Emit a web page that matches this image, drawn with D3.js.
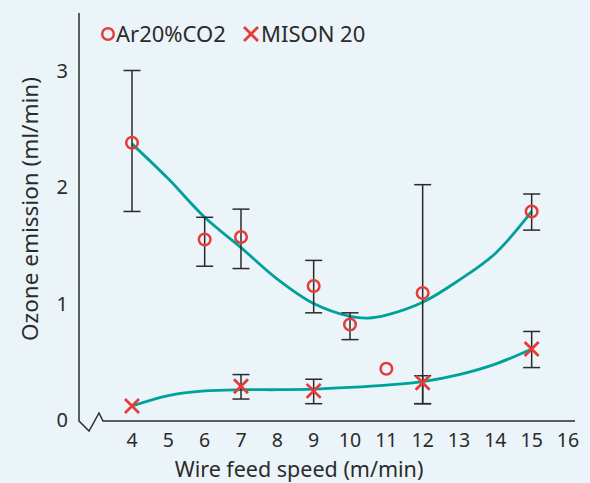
<!DOCTYPE html>
<html>
<head>
<meta charset="utf-8">
<script src="https://cdn.jsdelivr.net/npm/d3@7"></script>
<style>
  body { margin: 0; background: #ebf4f8; }
  svg { display: block; }
  text { font-family: "Noto Sans", sans-serif; fill: #2b2b2b; }
</style>
</head>
<body>
<svg id="chart" width="590" height="483"></svg>
<script>
// measured points
const arSpeed = [4, 6, 7, 9, 10, 11, 12, 15]
const arValue = [2.38, 1.55, 1.57, 1.15, 0.82, 0.44, 1.09, 1.79]
const arLow = [1.79, 1.32, 1.30, 0.92, 0.69, null, 0.14, 1.63]
const arHigh = [3.0, 1.74, 1.81, 1.37, 0.92, null, 2.02, 1.94]

const miSpeed = [4, 7, 9, 12, 15]
const miValue = [0.12, 0.29, 0.25, 0.32, 0.61]
const miLow = [null, 0.18, 0.14, 0.14, 0.45]
const miHigh = [null, 0.39, 0.35, 0.38, 0.76]

// fitted trend lines
const arFitX = [4, 5, 6, 7, 8, 9, 10, 10.5, 11, 12, 13, 14, 15]
const arFitY = [2.37, 2.07, 1.74, 1.48, 1.21, 1.0, 0.89, 0.875, 0.9, 1.01, 1.2, 1.43, 1.79]
const miFitX = [4, 5, 6, 7, 8, 9, 10, 11, 12, 13, 14, 15]
const miFitY = [0.12, 0.21, 0.25, 0.26, 0.26, 0.265, 0.28, 0.30, 0.33, 0.39, 0.48, 0.61]

const xTicks = [4, 5, 6, 7, 8, 9, 10, 11, 12, 13, 14, 15, 16]
const yTicks = [0, 1, 2, 3]
const legendNames = ["Ar20%CO2", "MISON 20"]

const red = "#e53c3a"
const teal = "#00a19a"
const ink = "#2b2b2b"

const svg = d3.select("#chart")

const x = d3.scaleLinear().domain([4, 16]).range([132, 568])
const y = d3.scaleLinear().domain([0, 3]).range([420, 70.5])

// axes with break
svg.append("path")
  .attr("d", "M79,13 L79,421 L89,431 L99,413 L103,421 L575,421")
  .attr("fill", "none")
  .attr("stroke", ink)
  .attr("stroke-width", 1.5)

svg.append("g").selectAll("text")
  .data(xTicks)
  .enter()
  .append("text")
  .attr("x", d => x(d))
  .attr("y", 447)
  .attr("text-anchor", "middle")
  .style("font-size", "19.5px")
  .text(d => d)

svg.append("g").selectAll("text")
  .data(yTicks)
  .enter()
  .append("text")
  .attr("x", 68)
  .attr("y", d => y(d) + 7)
  .attr("text-anchor", "end")
  .style("font-size", "20px")
  .text(d => d)

svg.append("text")
  .attr("x", 299)
  .attr("y", 476.5)
  .attr("text-anchor", "middle")
  .style("font-size", "21.5px")
  .text("Wire feed speed (m/min)")

svg.append("text")
  .attr("transform", "translate(38, 209) rotate(-90)")
  .attr("text-anchor", "middle")
  .style("font-size", "22.5px")
  .text("Ozone emission (ml/min)")

// trend curves
const line = d3.line()
  .x(d => x(d[0]))
  .y(d => y(d[1]))
  .curve(d3.curveCatmullRom.alpha(0.5))

svg.append("path")
  .datum(arFitX.map((v, i) => [v, arFitY[i]]))
  .attr("d", line)
  .attr("fill", "none")
  .attr("stroke", teal)
  .attr("stroke-width", 2.8)

svg.append("path")
  .datum(miFitX.map((v, i) => [v, miFitY[i]]))
  .attr("d", line)
  .attr("fill", "none")
  .attr("stroke", teal)
  .attr("stroke-width", 2.8)

// error bars
function drawErrors(xs, lows, highs) {
  const rows = xs.map((v, i) => ({ x: v, lo: lows[i], hi: highs[i] }))
    .filter(d => d.lo !== null)
  const g = svg.append("g")
    .attr("stroke", ink)
    .attr("stroke-width", 1.5)
  g.selectAll(".stem")
    .data(rows)
    .enter()
    .append("line")
    .attr("x1", d => x(d.x))
    .attr("x2", d => x(d.x))
    .attr("y1", d => y(d.lo))
    .attr("y2", d => y(d.hi))
  g.selectAll(".capHi")
    .data(rows)
    .enter()
    .append("line")
    .attr("x1", d => x(d.x) - 8.5)
    .attr("x2", d => x(d.x) + 8.5)
    .attr("y1", d => y(d.hi))
    .attr("y2", d => y(d.hi))
  g.selectAll(".capLo")
    .data(rows)
    .enter()
    .append("line")
    .attr("x1", d => x(d.x) - 8.5)
    .attr("x2", d => x(d.x) + 8.5)
    .attr("y1", d => y(d.lo))
    .attr("y2", d => y(d.lo))
}
drawErrors(arSpeed, arLow, arHigh)
drawErrors(miSpeed, miLow, miHigh)

// markers
function cross(g, cx, cy) {
  g.append("path")
    .attr("d", `M${cx - 7},${cy - 7} L${cx + 7},${cy + 7} M${cx - 7},${cy + 7} L${cx + 7},${cy - 7}`)
    .attr("stroke", red)
    .attr("stroke-width", 2.8)
    .attr("fill", "none")
}

svg.append("g").selectAll("circle")
  .data(arSpeed.map((v, i) => [v, arValue[i]]))
  .enter()
  .append("circle")
  .attr("cx", d => x(d[0]))
  .attr("cy", d => y(d[1]))
  .attr("r", 5.8)
  .attr("fill", "none")
  .attr("stroke", red)
  .attr("stroke-width", 2.5)

const crosses = svg.append("g")
miSpeed.forEach((v, i) => cross(crosses, x(v), y(miValue[i])))

// legend
const legend = svg.append("g")
legend.append("circle")
  .attr("cx", 108)
  .attr("cy", 34)
  .attr("r", 5.8)
  .attr("fill", "none")
  .attr("stroke", red)
  .attr("stroke-width", 2.5)
legend.append("text")
  .attr("x", 116)
  .attr("y", 42)
  .style("font-size", "22px")
  .text(legendNames[0])
cross(legend, 251, 34)
legend.append("text")
  .attr("x", 261)
  .attr("y", 42)
  .style("font-size", "22px")
  .text(legendNames[1])
</script>
</body>
</html>
